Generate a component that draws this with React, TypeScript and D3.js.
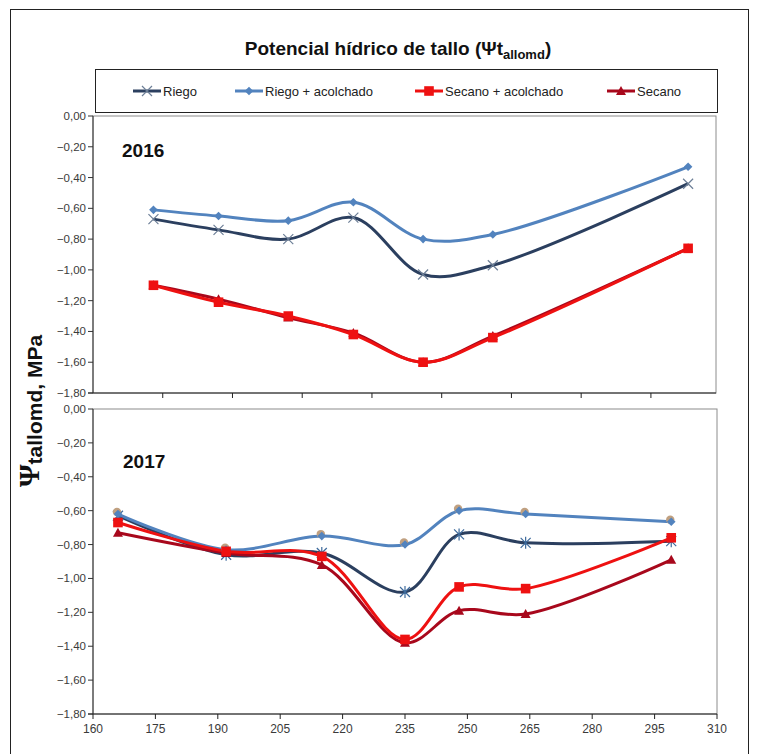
import * as d3 from 'd3';

// series, same order as the legend
const seriesNames = ['Riego', 'Riego + acolchado', 'Secano + acolchado', 'Secano'];

// 2016 panel
const days2016 = [173, 187, 202, 216, 231, 246, 288];
const riego2016 = [-0.67, -0.74, -0.8, -0.66, -1.03, -0.97, -0.44];
const riegoAcol2016 = [-0.61, -0.65, -0.68, -0.56, -0.8, -0.77, -0.33];
const secanoAcol2016 = [-1.1, -1.21, -1.3, -1.42, -1.6, -1.44, -0.86];
const secano2016 = [-1.1, -1.19, -1.31, -1.41, -1.6, -1.43, -0.86];

// 2017 panel
const days2017 = [166, 192, 215, 235, 248, 264, 299];
const riego2017 = [-0.63, -0.86, -0.85, -1.08, -0.74, -0.79, -0.78];
const riegoAcol2017 = [-0.62, -0.83, -0.75, -0.8, -0.6, -0.62, -0.665];
const secanoAcol2017 = [-0.67, -0.84, -0.87, -1.36, -1.05, -1.06, -0.76];
const secano2017 = [-0.73, -0.85, -0.92, -1.38, -1.19, -1.21, -0.89];

const yTicks = [0, -0.2, -0.4, -0.6, -0.8, -1.0, -1.2, -1.4, -1.6, -1.8];
const xTicks2016 = [175, 190, 205, 220, 235, 250, 265, 280];
const xTicks2017 = [160, 175, 190, 205, 220, 235, 250, 265, 280, 295, 310];

const colors = ['#2b3f5f', '#5283be', '#ee1111', '#a8081c'];
const markerKinds = ['x', 'diamond', 'square', 'triangle'];

const fmt = (v: number) => (Math.abs(v) < 1e-9 ? '0,00' : d3.format('.2f')(v).replace('.', ','));

function markerPath(kind: string, s: number) {
  if (kind === 'diamond') return `M0,${-s}L${s},0L0,${s}L${-s},0Z`;
  if (kind === 'square') return `M${-s},${-s}H${s}V${s}H${-s}Z`;
  if (kind === 'triangle') return `M0,${-s}L${s},${s * 0.8}L${-s},${s * 0.8}Z`;
  if (kind === 'star') return `M${-s},${-s}L${s},${s}M${s},${-s}L${-s},${s}M0,${-s * 1.2}V${s * 1.2}`;
  return `M${-s},${-s}L${s},${s}M${s},${-s}L${-s},${s}`;
}

function Marker({ kind, x, y, color }: { kind: string; x: number; y: number; color: string }) {
  const sizes: Record<string, number> = { x: 5, star: 5, diamond: 4.3, square: 4.8, triangle: 5 };
  const stroked = kind === 'x' || kind === 'star';
  return (
    <path
      d={markerPath(kind, sizes[kind])}
      transform={`translate(${x},${y})`}
      fill={stroked ? 'none' : color}
      stroke={stroked ? (kind === 'x' ? '#6d7f97' : '#3d6a9c') : 'none'}
      strokeWidth={stroked ? 1.2 : 0}
    />
  );
}

function Panel({ days, series, xDomain, xRange, yRange, xTicks, showXLabels, label, riegoMarker, tan }: any) {
  const x = d3.scaleLinear().domain(xDomain).range(xRange);
  const y = d3.scaleLinear().domain([0, -1.8]).range(yRange);
  const line = d3
    .line<number>()
    .x((_, i) => x(days[i]))
    .y((d) => y(d))
    .curve(d3.curveCatmullRom.alpha(0.5));
  const [x0, x1] = xRange;
  const [y0, y1] = yRange;
  const order = [0, 1, 3, 2];
  return (
    <g>
      <rect x={x0} y={y0} width={x1 - x0} height={y1 - y0} fill="none" stroke="#8c8c8c" strokeWidth={1} />
      <line x1={x0} x2={x0} y1={y0} y2={y1} stroke="#333" />
      <line x1={x0 - 5} x2={x1} y1={y1} y2={y1} stroke="#222" />
      {yTicks.map((t) => (
        <g key={t}>
          <line x1={x0 - 5} x2={x0} y1={y(t)} y2={y(t)} stroke="#333" />
          <text x={x0 - 7} y={y(t)} dy="0.35em" textAnchor="end" fontSize={11.5} fill="#3a3a3a">
            {fmt(t)}
          </text>
        </g>
      ))}
      {xTicks.map((t: number) => (
        <g key={t}>
          <line x1={x(t)} x2={x(t)} y1={y1} y2={y1 + 5} stroke="#222" />
          {showXLabels && (
            <text x={x(t)} y={y1 + 19} textAnchor="middle" fontSize={12} fill="#3a3a3a">
              {t}
            </text>
          )}
        </g>
      ))}
      <text x={label.x} y={label.y} fontSize={19} fontWeight="bold" fill="#111">
        {label.text}
      </text>
      {order.map((si) => (
        <path key={si} d={line(series[si]) || ''} fill="none" stroke={colors[si]} strokeWidth={3} />
      ))}
      {order.map((si) =>
        series[si].map((v: number, i: number) => (
          <g key={`${si}-${i}`}>
            {si === 1 && tan && <circle cx={x(days[i]) - 1} cy={y(v) - 2} r={4.2} fill="#c0a080" />}
            <Marker kind={si === 0 ? riegoMarker : markerKinds[si]} x={x(days[i])} y={y(v)} color={colors[si]} />
          </g>
        ))
      )}
    </g>
  );
}

export default function App() {
  const legendX = [133, 235, 415, 607];
  return (
    <svg
      width={761}
      height={754}
      style={{ position: 'absolute', left: 0, top: 0, background: '#fff' }}
      fontFamily="'Liberation Sans', Arial, sans-serif"
    >
      <rect x={10.5} y={9.5} width={738} height={760} fill="#fff" stroke="#222" />
      <text
        x={398}
        y={55}
        textAnchor="middle"
        fontFamily="'Liberation Sans Narrow', 'Liberation Sans', Arial, sans-serif"
        fontSize={19}
        fontWeight="bold"
        fill="#111"
      >
        Potencial hídrico de tallo (Ψt
        <tspan fontSize={13} dy={4}>allomd</tspan>
        <tspan dy={-4}>)</tspan>
      </text>

      <rect x={95.5} y={69.5} width={622} height={43} fill="#fff" stroke="#222" />
      {seriesNames.map((name, i) => (
        <g key={name}>
          <line x1={legendX[i]} x2={legendX[i] + 28} y1={91} y2={91} stroke={colors[i]} strokeWidth={3} />
          <Marker kind={markerKinds[i]} x={legendX[i] + 14} y={91} color={colors[i]} />
          <text x={legendX[i] + 30} y={91} dy="0.35em" fontSize={13} fill="#222">
            {name}
          </text>
        </g>
      ))}

      <Panel
        days={days2016}
        series={[riego2016, riegoAcol2016, secanoAcol2016, secano2016]}
        xDomain={[160, 294]}
        xRange={[93, 716]}
        yRange={[116, 393]}
        xTicks={xTicks2016}
        showXLabels={false}
        label={{ text: '2016', x: 122, y: 157 }}
        riegoMarker="x"
        tan={false}
      />
      <Panel
        days={days2017}
        series={[riego2017, riegoAcol2017, secanoAcol2017, secano2017]}
        xDomain={[160, 310]}
        xRange={[93, 717]}
        yRange={[409, 714]}
        xTicks={xTicks2017}
        showXLabels={true}
        label={{ text: '2017', x: 123, y: 468 }}
        riegoMarker="star"
        tan={true}
      />

      <text
        transform="translate(39,411) rotate(-90)"
        textAnchor="middle"
        fontSize={21}
        fontWeight="bold"
        fill="#111"
      >
        <tspan fontFamily="'Liberation Serif', 'DejaVu Serif', serif" fontSize={29}>Ψ</tspan>
        <tspan dy={3}>tallomd, MPa</tspan>
      </text>
    </svg>
  );
}
